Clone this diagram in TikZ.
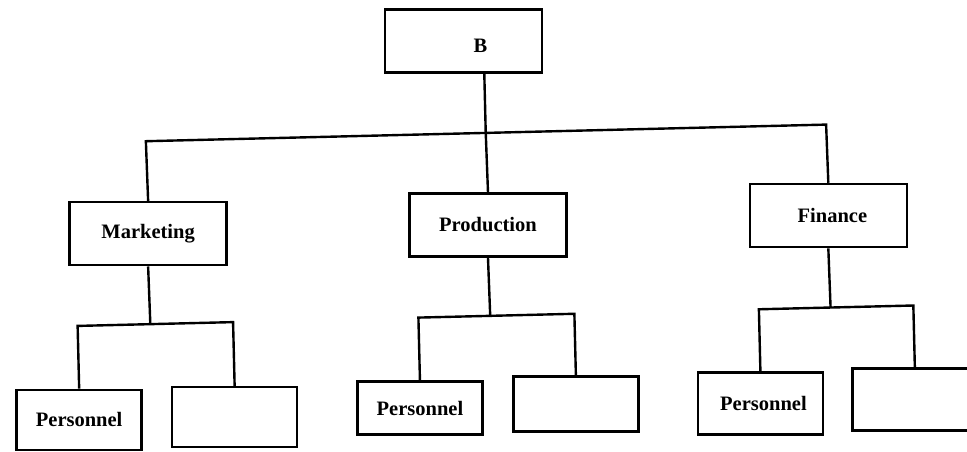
\documentclass[tikz,border=0pt]{standalone}
\usepackage{fontspec}
\setmainfont{Liberation Serif}
\begin{document}
\begin{tikzpicture}[x=1pt,y=-1pt,
  box/.style={draw=black,line width=2.6pt,inner sep=0pt,fill=none,
    font=\fontsize{20.5}{24}\selectfont\bfseries},
  big/.style={box,minimum width=157pt,minimum height=63pt},
  small/.style={box,minimum width=125pt,minimum height=60pt},
  lbl/.style={inner sep=0pt,font=\fontsize{20.5}{24}\selectfont\bfseries},
  conn/.style={draw=black,line width=2.4pt}]
\useasboundingbox (0,0) rectangle (967,451);
\clip (0,0) rectangle (967,451);
\fill[white] (0,0) rectangle (967,451);
\begin{scope}[rotate around={1.4:(483,225)}]
% top
\node[big,label={[lbl,xshift=17pt,yshift=-4.5pt]center:B}] (b) at (468,40.5) {};
% second level
\node[big] (mkt) at (148,225.5) {Marketing};
\node[big] (prod) at (488,225) {Production};
\node[big] (fin) at (828.5,224) {\hspace*{8pt}Finance};
% third level
\node[small] (mp) at (74.5,410) {Personnel};
\node[small] (mq) at (230,411) {};
\node[small,minimum height=53pt] (pp) at (415.5,406.5) {Personnel};
\node[small,minimum height=55pt] (pq) at (571.5,406.5) {};
\node[small,minimum height=62pt] (fp) at (756,410) {\hspace*{6pt}Personnel};
\node[small,minimum height=62pt] (fq) at (910.5,410) {};
% junctions
\coordinate (busL) at (148,133);
\coordinate (busM) at (488,133);
\coordinate (busR) at (828.5,133);
\coordinate (mj) at (148,316);
\coordinate (pj) at (488,316);
\coordinate (fj) at (828.5,316);
% connectors
\path[conn] (b.south -| busM) -- (busM) -- (prod.north);
\path[conn] (mkt.north) -- (busL) -- (busR) -- (fin.north);
\path[conn] (mkt.south) -- (mj);
\path[conn] (mp.north) |- (mj) -| (mq.north);
\path[conn] (prod.south) -- (pj);
\path[conn] (pp.north) |- (pj) -| (pq.north);
\path[conn] (fin.south) -- (fj);
\path[conn] (fp.north) |- (fj) -| (fq.north);
\end{scope}
\end{tikzpicture}
\end{document}
